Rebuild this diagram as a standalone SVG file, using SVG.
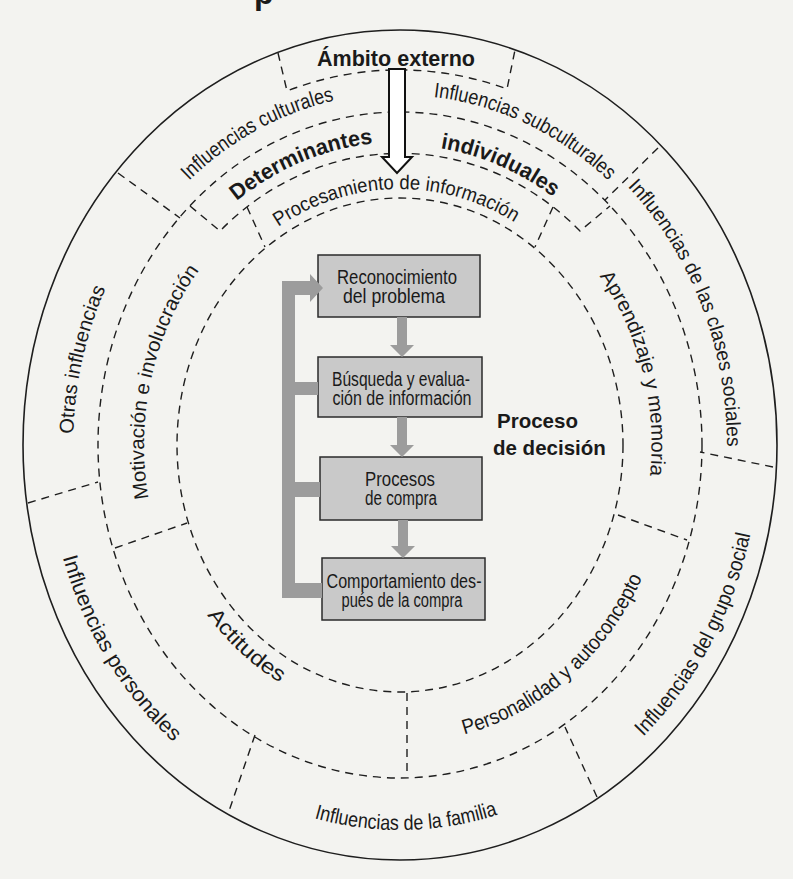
<svg xmlns="http://www.w3.org/2000/svg" width="793" height="879" viewBox="0 0 793 879">
  <style>
    .outer { fill: none; stroke: #1e1e1e; stroke-width: 1.6; }
    .ring { fill: none; stroke: #1e1e1e; stroke-width: 1.4; stroke-dasharray: 8 6; }
    .lbl { font-family: "Liberation Sans", Arial, sans-serif; font-size: 20px; fill: #1a1a1a; }
    .tall { font-size: 21px; }
    .bold { font-weight: bold; }
    .box { fill: #c9c9c9; stroke: #2a2a2a; stroke-width: 1.5; }
    .boxtxt { font-family: "Liberation Sans", Arial, sans-serif; font-size: 20px; fill: #1a1a1a; text-anchor: middle; }
    .flow { fill: #9c9c9c; }
  </style>
  <defs>
    <!-- baseline arcs for curved labels; ellipses share centre (400,445) -->
    <path id="p-cult" d="M120.5,274.4 A319.6,352 0 0 1 450,97.3"/>
    <path id="p-subc" d="M333.9,102.7 A317.8,350 0 0 1 669.5,259.5"/>
    <path id="p-clas" d="M550.9,125.7 A326.9,360 0 0 1 711.8,553.3"/>
    <path id="p-grup" d="M517.1,819.4 A359.6,396 0 0 0 755.2,383.1"/>
    <path id="p-fam" d="M230.5,781.7 A349.6,385 0 0 0 580.1,775"/>
    <path id="p-pers" d="M47.8,438.2 A352.3,388 0 0 0 273.7,807.2"/>
    <path id="p-otras" d="M85.8,544.2 A326.9,360 0 0 1 164.9,194.9"/>
    <path id="p-motiv" d="M169.9,568.6 A256,282 0 0 1 249.5,216.9"/>
    <path id="p-apren" d="M540.6,215.4 A251.5,277 0 0 1 629.8,557.7"/>
    <path id="p-perso" d="M390.6,742.8 A270.6,298 0 0 0 664.7,507"/>
    <path id="p-acti" d="M186.1,581 A247,272 0 0 0 315.5,700.6"/>
    <path id="p-det" d="M187.1,253.1 A275.1,303 0 0 1 444.5,146"/>
    <path id="p-ind" d="M357.4,148.7 A272.4,300 0 0 1 611.7,256.2"/>
    <path id="p-proc" d="M232.8,267.2 A232.4,256 0 0 1 561.4,260.9"/>
  </defs>

  <rect width="793" height="879" fill="#f3f3f0"/>

  <!-- clipped heading above the figure -->
  <text x="254" y="4" class="lbl bold" style="font-size:32px">p</text>

  <!-- ring structure -->
  <g id="rings">
    <ellipse class="outer" cx="400" cy="445" rx="377" ry="415"/>
    <ellipse class="ring" cx="400" cy="445" rx="302" ry="333"/>
    <ellipse class="ring" cx="400" cy="445" rx="223" ry="247"/>
    <!-- tab for "Ámbito externo" -->
    <path class="ring" d="M278,53 L287,91 A340.5,375 0 0 1 507,89 L515,50"/>
    <!-- tab for "Determinantes individuales" -->
    <path class="ring" d="M190,206 L220,231 A265,292 0 0 1 580,231 L610,206"/>
    <!-- sides of the "Procesamiento de información" sector -->
    <line class="ring" x1="247" y1="207" x2="265" y2="247"/>
    <line class="ring" x1="553" y1="207" x2="535" y2="247"/>
    <!-- sector dividers, outer band -->
    <line class="ring" x1="118" y1="173" x2="180" y2="218"/>
    <line class="ring" x1="658" y1="148" x2="605" y2="200"/>
    <line class="ring" x1="773" y1="467" x2="700" y2="452"/>
    <line class="ring" x1="597" y1="797" x2="565" y2="727"/>
    <line class="ring" x1="255" y1="735" x2="228" y2="814"/>
    <line class="ring" x1="28" y1="503" x2="98" y2="482"/>
    <!-- sector dividers, middle band -->
    <line class="ring" x1="115" y1="548" x2="187" y2="523"/>
    <line class="ring" x1="407" y1="693" x2="407" y2="777"/>
    <line class="ring" x1="618" y1="515" x2="687" y2="540"/>
  </g>

  <g id="ambito-externo">
    <text x="396" y="66" class="lbl bold" style="font-size:22px" text-anchor="middle" textLength="158" lengthAdjust="spacingAndGlyphs">Ámbito externo</text>
  </g>

  <g id="influencias-culturales"><text class="lbl tall"><textPath href="#p-cult" startOffset="50%" text-anchor="middle" textLength="168" lengthAdjust="spacingAndGlyphs">Influencias culturales</textPath></text></g>
  <g id="influencias-subculturales"><text class="lbl tall"><textPath href="#p-subc" startOffset="50%" text-anchor="middle" textLength="197" lengthAdjust="spacingAndGlyphs">Influencias subculturales</textPath></text></g>
  <g id="influencias-clases"><text class="lbl"><textPath href="#p-clas" startOffset="49%" text-anchor="middle" textLength="285" lengthAdjust="spacingAndGlyphs">Influencias de las clases sociales</textPath></text></g>
  <g id="influencias-grupo"><text class="lbl tall"><textPath href="#p-grup" startOffset="50%" text-anchor="middle" textLength="232" lengthAdjust="spacingAndGlyphs">Influencias del grupo social</textPath></text></g>
  <g id="influencias-familia"><text class="lbl tall"><textPath href="#p-fam" startOffset="50%" text-anchor="middle" textLength="186" lengthAdjust="spacingAndGlyphs">Influencias de la familia</textPath></text></g>
  <g id="influencias-personales"><text class="lbl tall"><textPath href="#p-pers" startOffset="50%" text-anchor="middle" textLength="218" lengthAdjust="spacingAndGlyphs">Influencias personales</textPath></text></g>
  <g id="otras-influencias"><text class="lbl"><textPath href="#p-otras" startOffset="50%" text-anchor="middle" textLength="150" lengthAdjust="spacingAndGlyphs">Otras influencias</textPath></text></g>

  <g id="motivacion"><text class="lbl"><textPath href="#p-motiv" startOffset="50%" text-anchor="middle" textLength="240" lengthAdjust="spacingAndGlyphs">Motivación e involucración</textPath></text></g>
  <g id="aprendizaje"><text class="lbl"><textPath href="#p-apren" startOffset="50%" text-anchor="middle" textLength="210" lengthAdjust="spacingAndGlyphs">Aprendizaje y memoria</textPath></text></g>
  <g id="personalidad"><text class="lbl tall"><textPath href="#p-perso" startOffset="50%" text-anchor="middle" textLength="245" lengthAdjust="spacingAndGlyphs">Personalidad y autoconcepto</textPath></text></g>
  <g id="actitudes"><text class="lbl tall"><textPath href="#p-acti" startOffset="50%" text-anchor="middle" textLength="100" lengthAdjust="spacingAndGlyphs">Actitudes</textPath></text></g>
  <g id="procesamiento"><text class="lbl"><textPath href="#p-proc" startOffset="50%" text-anchor="middle" textLength="250" lengthAdjust="spacingAndGlyphs">Procesamiento de información</textPath></text></g>

  <g id="determinantes-individuales">
    <text class="lbl bold" style="font-size:22px"><textPath href="#p-det" startOffset="50%" text-anchor="middle" textLength="150" lengthAdjust="spacingAndGlyphs">Determinantes</textPath></text>
    <text class="lbl bold" style="font-size:22px"><textPath href="#p-ind" startOffset="50%" text-anchor="middle" textLength="124" lengthAdjust="spacingAndGlyphs">individuales</textPath></text>
  </g>

  <g id="proceso-decision">
    <text class="lbl bold" x="497" y="428" style="font-size:20.5px">Proceso</text>
    <text class="lbl bold" x="493" y="455" style="font-size:20.5px">de decisión</text>
  </g>

  <!-- decision-process steps -->
  <g id="reconocimiento">
    <rect class="box" x="318" y="255" width="162" height="62"/>
    <text class="boxtxt" x="397" y="284" textLength="120" lengthAdjust="spacingAndGlyphs">Reconocimiento</text>
    <text class="boxtxt" x="394" y="303" textLength="102" lengthAdjust="spacingAndGlyphs">del problema</text>
  </g>
  <g id="busqueda">
    <rect class="box" x="318" y="357" width="164" height="60"/>
    <text class="boxtxt" x="401" y="386" textLength="138" lengthAdjust="spacingAndGlyphs">Búsqueda y evalua-</text>
    <text class="boxtxt" x="402" y="405" textLength="139" lengthAdjust="spacingAndGlyphs">ción de información</text>
  </g>
  <g id="procesos-compra">
    <rect class="box" x="320" y="457" width="162" height="63"/>
    <text class="boxtxt" x="400" y="486" textLength="70" lengthAdjust="spacingAndGlyphs">Procesos</text>
    <text class="boxtxt" x="401" y="505" textLength="72" lengthAdjust="spacingAndGlyphs">de compra</text>
  </g>
  <g id="comportamiento">
    <rect class="box" x="322" y="558" width="163" height="62"/>
    <text class="boxtxt" x="404" y="588" textLength="155" lengthAdjust="spacingAndGlyphs">Comportamiento des-</text>
    <text class="boxtxt" x="402" y="607" textLength="121" lengthAdjust="spacingAndGlyphs">pués de la compra</text>
  </g>

  <g id="connectors">
    <!-- influence flowing in from the environment -->
    <path d="M389,69 H405 V157 H412 L397,173 L382,157 H389 Z" fill="#ffffff" stroke="#111" stroke-width="2"/>
    <!-- step-to-step arrows -->
    <path class="flow" d="M397,317 H407 V345 H414 L402,357 L390,345 H397 Z"/>
    <path class="flow" d="M397,417 H407 V445 H414 L402,457 L390,445 H397 Z"/>
    <path class="flow" d="M398,520 H408 V546 H415 L403,558 L391,546 H398 Z"/>
    <!-- feedback loop back to problem recognition -->
    <path class="flow" d="M282,281 H310 V274 L323,288 L310,302 V295 H295 V382 H318 V395 H295 V482 H320 V497 H295 V583 H322 V598 H282 Z"/>
  </g>
</svg>
